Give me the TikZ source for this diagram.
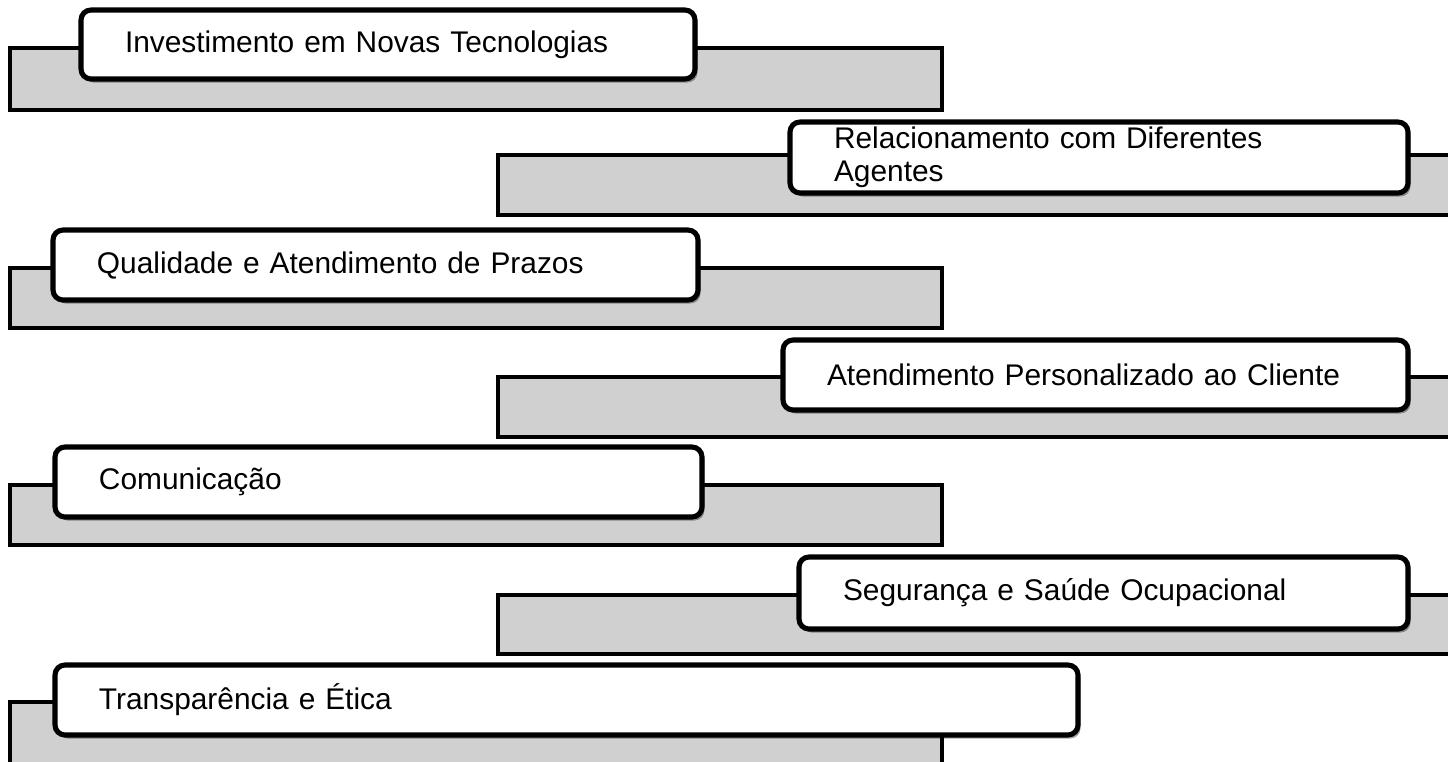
\documentclass[tikz,border=0pt]{standalone}
\usepackage{fontspec}
\setmainfont{Liberation Sans}
\usetikzlibrary{positioning}
\usetikzlibrary{shadows}

\definecolor{barfill}{HTML}{D0D0D0}

\begin{document}
\begin{tikzpicture}[
    font=\fontsize{8.5}{9.3}\selectfont
]
\tikzset{
    mybar/.style = {rectangle, draw=black, line width=1pt, fill=barfill, anchor=north west, inner sep=0pt, outer sep=0pt},
    mybox/.style = {rectangle, rounded corners=0.1cm, draw=black, line width=1.45pt, fill=white, anchor=north west,
        align=left, inner xsep=0.44cm, inner ysep=0pt, outer sep=0pt,
        drop shadow={shadow xshift=0.025cm, shadow yshift=-0.035cm, fill=black, opacity=0.35}}
}
\useasboundingbox (0,0) rectangle (14.48,-7.62);
\clip (0,0) rectangle (14.48,-7.62);
% row 1
\node[mybar, minimum width=9.32cm, minimum height=0.62cm] at (0.10,-0.48) (ra) {};
\node[mybox, minimum width=6.14cm, text width=5.26cm, minimum height=0.69cm] at (0.81,-0.10) (a) {Investimento em Novas Tecnologias};
% row 2
\node[mybar, minimum width=9.70cm, minimum height=0.60cm] at (4.98,-1.55) (rb) {};
\node[mybox, minimum width=6.18cm, text width=5.30cm, minimum height=0.71cm] at (7.90,-1.22) (b) {Relacionamento com Diferentes\\Agentes};
% row 3
\node[mybar, minimum width=9.32cm, minimum height=0.60cm] at (0.10,-2.68) (rc) {};
\node[mybox, minimum width=6.45cm, text width=5.57cm, minimum height=0.70cm] at (0.53,-2.30) (c) {Qualidade e Atendimento de Prazos};
% row 4
\node[mybar, minimum width=9.70cm, minimum height=0.60cm] at (4.98,-3.77) (rd) {};
\node[mybox, minimum width=6.25cm, text width=5.37cm, minimum height=0.70cm] at (7.83,-3.40) (d) {Atendimento Personalizado ao Cliente};
% row 5
\node[mybar, minimum width=9.32cm, minimum height=0.60cm] at (0.10,-4.85) (re) {};
\node[mybox, minimum width=6.47cm, text width=5.59cm, minimum height=0.70cm] at (0.55,-4.47) (e) {Comunicação};
% row 6
\node[mybar, minimum width=9.70cm, minimum height=0.59cm] at (4.98,-5.95) (rf) {};
\node[mybox, minimum width=6.09cm, text width=5.21cm, minimum height=0.72cm] at (7.99,-5.57) (f) {Segurança e Saúde Ocupacional};
% row 7
\node[mybar, minimum width=9.32cm, minimum height=0.90cm] at (0.10,-7.02) (rg) {};
\node[mybox, minimum width=10.23cm, text width=9.35cm, minimum height=0.70cm] at (0.55,-6.65) (g) {Transparência e Ética};
\end{tikzpicture}
\end{document}
